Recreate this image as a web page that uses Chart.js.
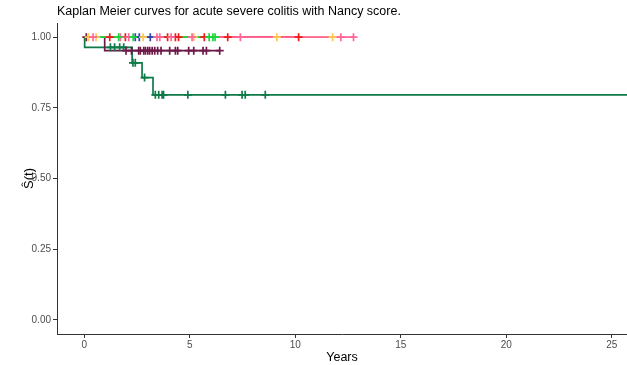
<!DOCTYPE html>
<html>
<head>
<meta charset="utf-8">
<script src="https://cdn.jsdelivr.net/npm/chart.js@4.4.1/dist/chart.umd.min.js"></script>
<style>
  html, body { margin: 0; padding: 0; background: #ffffff; }
  #wrap { width: 627px; height: 365px; }
</style>
</head>
<body>
<div id="wrap"><canvas id="km" width="627" height="365"></canvas></div>
<script>
// Kaplan-Meier survival by Nancy score group.
// Each group: event times with survival after the step, plus censoring times.

const titleText = 'Kaplan Meier curves for acute severe colitis with Nancy score.';
const xTicks = [0, 5, 10, 15, 20, 25];
const yTicks = [0, 0.25, 0.5, 0.75, 1];

// bright green group
const greenTimes = [0, 6.2];
const greenSurv = [1, 1];
const greenCensor = [1.63, 2.32, 5.92, 6.1, 6.2];

// pink group
const pinkTimes = [0, 12.76];
const pinkSurv = [1, 1];
const pinkCensor = [0.42, 1.71, 2.11, 3.45, 3.58, 4.12, 5.11, 7.4, 12.16, 12.76];

// red group
const redTimes = [0, 10.16];
const redSurv = [1, 1];
const redCensor = [1.21, 1.95, 3.95, 4.32, 4.47, 5.69, 6.8, 10.16];

// yellow group
const yellowTimes = [0, 11.77];
const yellowSurv = [1, 1];
const yellowCensor = [0.21, 0.56, 2.79, 5.19, 9.13, 11.77];

// blue group
const blueTimes = [0, 3.13];
const blueSurv = [1, 1];
const blueCensor = [2.42, 2.61, 3.13];

// maroon group
const maroonTimes = [0, 0.97, 6.45];
const maroonSurv = [1, 0.952, 0.952];
const maroonCensor = [0.1, 1.98, 2.24, 2.58, 2.66, 2.82, 2.9, 3.01, 3.1, 3.22, 3.34, 3.48, 3.64,
                      4.05, 4.32, 4.43, 4.95, 5.19, 5.63, 5.79, 6.42];

// dark green group
const dkGreenTimes = [0, 0.02, 2.27, 2.74, 3.26, 26.8];
const dkGreenSurv = [1, 0.964, 0.909, 0.857, 0.796, 0.796];
const dkGreenCensor = [1.24, 1.44, 1.68, 1.87, 2.31, 2.42, 2.86, 3.37, 3.53, 3.69, 3.76,
                       4.91, 6.69, 7.48, 7.63, 8.58];

// listed top-most first
const groups = [
  { times: greenTimes,   surv: greenSurv,   censor: greenCensor,   color: '#19D93A' },
  { times: pinkTimes,    surv: pinkSurv,    censor: pinkCensor,    color: '#FF6699' },
  { times: redTimes,     surv: redSurv,     censor: redCensor,     color: '#F21A1A' },
  { times: yellowTimes,  surv: yellowSurv,  censor: yellowCensor,  color: '#FFC94D' },
  { times: blueTimes,    surv: blueSurv,    censor: blueCensor,    color: '#2E3FB8' },
  { times: maroonTimes,  surv: maroonSurv,  censor: maroonCensor,  color: '#6E1A48' },
  { times: dkGreenTimes, surv: dkGreenSurv, censor: dkGreenCensor, color: '#0E7A48' }
];

// survival value of a step curve at time t
function survAt(times, surv, t) {
  let s = surv[0];
  for (let i = 0; i < times.length; i++) {
    if (times[i] <= t) s = surv[i];
  }
  return s;
}

const datasets = [];
groups.forEach((g, k) => {
  datasets.push({
    type: 'scatter',
    order: k,
    data: g.censor.map(t => ({ x: t, y: survAt(g.times, g.surv, t) })),
    pointStyle: 'cross',
    pointRadius: 4,
    pointBorderWidth: 1.7,
    borderColor: g.color,
    backgroundColor: g.color,
    showLine: false
  });
  datasets.push({
    type: 'line',
    order: 10 + k,
    data: g.times.map((t, i) => ({ x: t, y: g.surv[i] })),
    stepped: true,
    borderColor: g.color,
    borderWidth: 1.7,
    pointRadius: 0,
    fill: false
  });
});

const font = "'Liberation Sans', Arial, sans-serif";

const titlePlugin = {
  id: 'plotTitle',
  afterDraw(chart) {
    const ctx = chart.ctx;
    ctx.save();
    ctx.font = '12.5px ' + font;
    ctx.fillStyle = '#000000';
    ctx.textBaseline = 'middle';
    ctx.textAlign = 'left';
    ctx.fillText(titleText, 57, 12);
    ctx.restore();
  }
};

new Chart(document.getElementById('km'), {
  type: 'line',
  data: { datasets },
  options: {
    responsive: false,
    devicePixelRatio: 1,
    animation: false,
    layout: { autoPadding: false, padding: { top: 23, left: 0, right: 0, bottom: 0 } },
    plugins: { legend: { display: false }, tooltip: { enabled: false } },
    scales: {
      x: {
        type: 'linear',
        min: -1.29,
        max: 25.72,
        afterBuildTicks: s => { s.ticks = xTicks.map(v => ({ value: v })); },
        afterFit: s => { s.height = 31; s.paddingLeft = 0; s.paddingRight = 0; },
        ticks: {
          color: '#4D4D4D',
          font: { family: font, size: 10 },
          padding: 1,
          maxRotation: 0,
          callback: v => String(v)
        },
        grid: { drawOnChartArea: false, tickLength: 4, color: '#333333', lineWidth: 1 },
        border: { display: true, color: '#333333', width: 1 },
        title: {
          display: true,
          text: 'Years',
          color: '#000000',
          font: { family: font, size: 12.5 },
          padding: { top: 0, bottom: 0 }
        }
      },
      y: {
        type: 'linear',
        min: -0.05,
        max: 1.05,
        afterBuildTicks: s => { s.ticks = yTicks.map(v => ({ value: v })); },
        afterFit: s => { s.width = 57; s.paddingTop = 0; s.paddingBottom = 0; },
        ticks: {
          color: '#4D4D4D',
          font: { family: font, size: 10 },
          padding: 2,
          callback: v => Number(v).toFixed(2)
        },
        grid: { drawOnChartArea: false, tickLength: 4, color: '#333333', lineWidth: 1 },
        border: { display: true, color: '#333333', width: 1 },
        title: {
          display: true,
          text: 'S\u0302(t)',
          color: '#000000',
          font: { family: font, size: 13 },
          padding: { top: 22, bottom: 0 }
        }
      }
    }
  },
  plugins: [titlePlugin]
});
</script>
</body>
</html>
